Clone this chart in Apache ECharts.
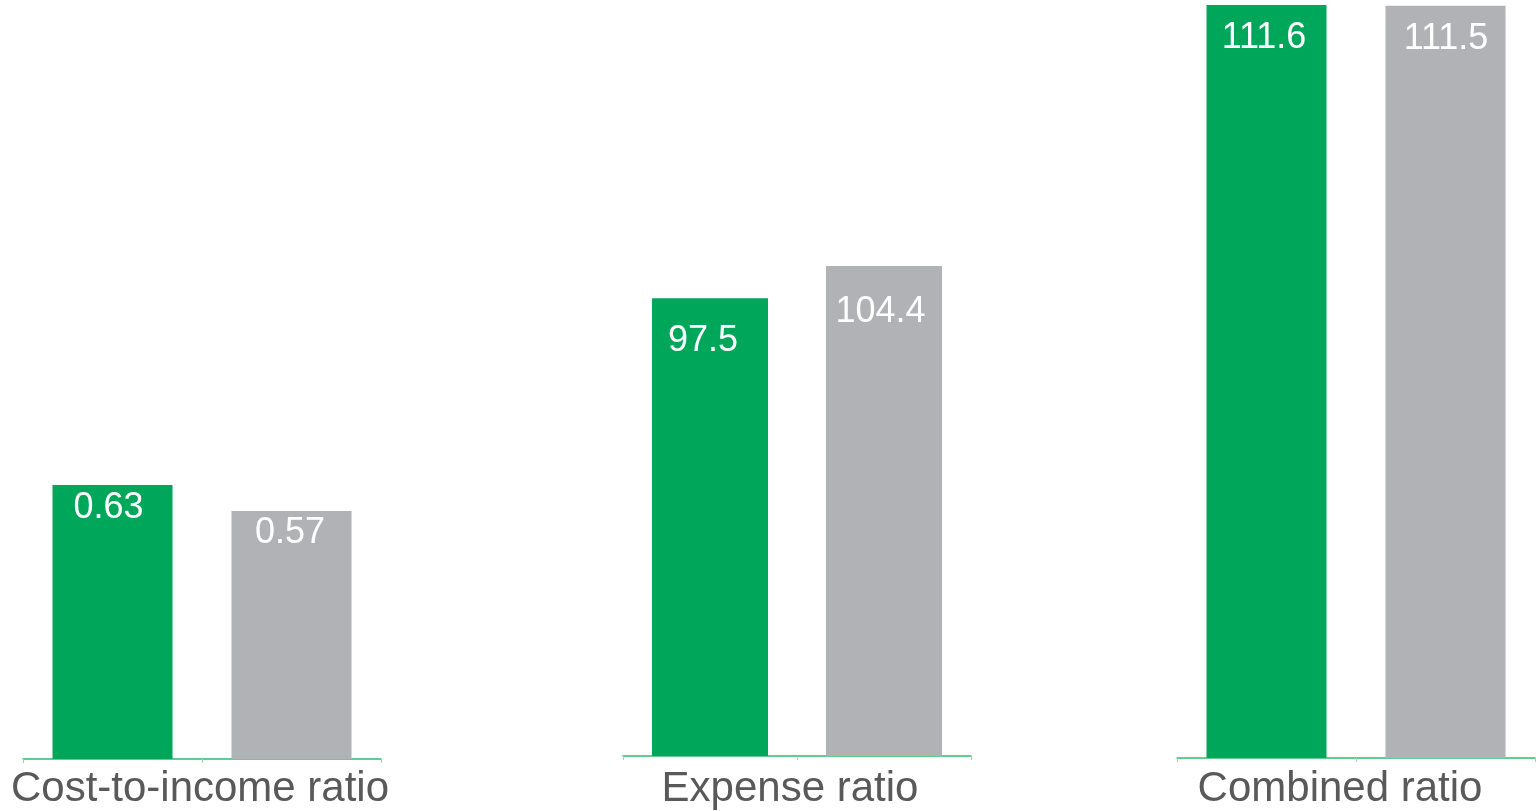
<!DOCTYPE html>
<html>
<head>
<meta charset="utf-8">
<script src="https://cdn.jsdelivr.net/npm/echarts@6/dist/echarts.min.js"></script>
<style>
html,body{margin:0;padding:0;background:#fff;}
#c{width:1536px;height:811px;}
</style>
</head>
<body>
<div id="c"></div>
<script>
// data
var categories = ['Cost-to-income ratio', 'Expense ratio', 'Combined ratio'];
var greenValues = [0.63, 97.5, 111.6];
var greyValues = [0.57, 104.4, 111.5];
var valueLabels = [['0.63', '0.57'], ['97.5', '104.4'], ['111.6', '111.5']];

// layout (not data)
var panelLeft = [23, 623, 1177];
var panelWidth = [358, 348, 358];
var panelBottom = [52, 55, 53];
var axisMax = [1.7336, 160, 111.6];
var barWidths = [120, 116, 120];
var labelDist = [[5, 4], [25, 28], [15, 15]];
var labelShiftX = [[-4, -1.5], [-7, -3.5], [-2.5, 0.5]];
var nameShiftPad = [4, 14, 32];
var nameGaps = [9, 12, 10];

var GREEN = '#00a65a';
var GREY = '#b1b2b6';

var grids = [], xAxes = [], yAxes = [], series = [];
for (var i = 0; i < categories.length; i++) {
  grids.push({left: panelLeft[i], width: panelWidth[i], top: 5, bottom: panelBottom[i], containLabel: false, outerBoundsMode: 'none'});
  xAxes.push({
    type: 'category', gridIndex: i, data: ['a', 'b'],
    name: categories[i], nameLocation: 'middle', nameGap: nameGaps[i],
    nameTextStyle: {fontFamily: 'Liberation Sans', fontSize: 42, color: '#595959', padding: [0, nameShiftPad[i], 0, 0]},
    axisLine: {show: true, lineStyle: {color: '#2dbd6e', width: 1.5}},
    axisTick: {show: true, length: 4, lineStyle: {color: '#8fdcb2', width: 1}},
    axisLabel: {show: false}, splitLine: {show: false}
  });
  yAxes.push({type: 'value', gridIndex: i, min: 0, max: axisMax[i], show: false, splitLine: {show: false}});
  var vals = [greenValues[i], greyValues[i]];
  var cols = [GREEN, GREY];
  var d = [];
  for (var j = 0; j < 2; j++) {
    (function (txt) {
      d.push({
        value: vals[j],
        itemStyle: {color: cols[j]},
        label: {distance: labelDist[i][j], offset: [labelShiftX[i][j], 0], formatter: function () { return txt; }}
      });
    })(valueLabels[i][j]);
  }
  series.push({
    type: 'bar', xAxisIndex: i, yAxisIndex: i, data: d, barWidth: barWidths[i],
    label: {show: true, position: 'insideTop', color: '#fff', fontFamily: 'Liberation Sans', fontSize: 36},
    emphasis: {disabled: true}, animation: false
  });
}

var chart = echarts.init(document.getElementById('c'));
chart.setOption({
  animation: false,
  grid: grids, xAxis: xAxes, yAxis: yAxes, series: series
});
</script>
</body>
</html>
